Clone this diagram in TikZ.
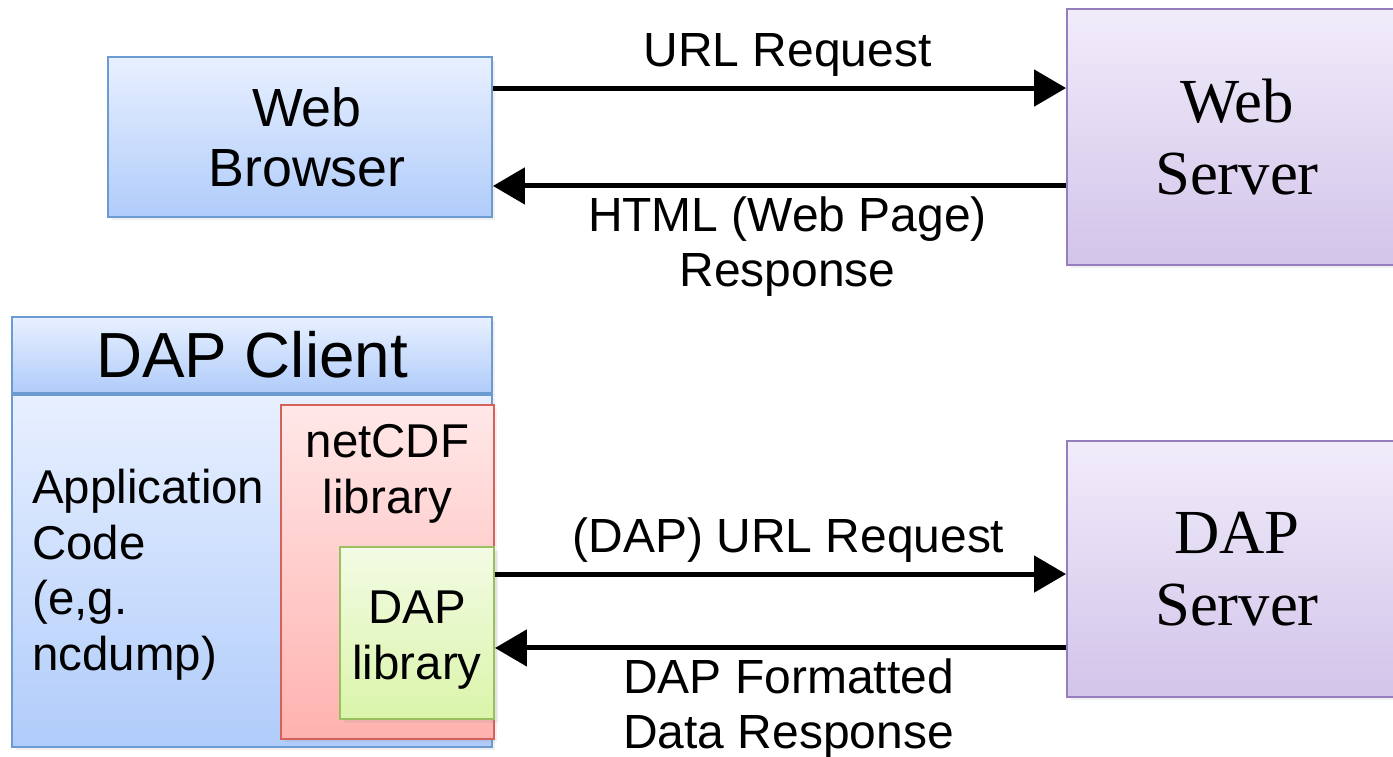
\documentclass[tikz,border=0pt]{standalone}
\usepackage{fontspec}
\setmainfont{Liberation Sans}
\newfontfamily\srvfont{Liberation Serif}
\usepackage{tikz}
\usetikzlibrary{arrows.meta, positioning, shadows}
\definecolor{cltop}{RGB}{232, 240, 255}
\definecolor{clbot}{RGB}{176, 204, 250}
\definecolor{clline}{RGB}{108, 155, 210}
\definecolor{svtop}{RGB}{241, 236, 250}
\definecolor{svbot}{RGB}{210, 196, 234}
\definecolor{svline}{RGB}{150, 125, 190}
\definecolor{cdftop}{RGB}{255, 232, 232}
\definecolor{cdfbot}{RGB}{255, 178, 175}
\definecolor{cdfline}{RGB}{214, 96, 90}
\definecolor{libtop}{RGB}{243, 251, 228}
\definecolor{libbot}{RGB}{218, 245, 170}
\definecolor{libline}{RGB}{155, 190, 95}
\newcommand{\boxfont}{\fontsize{27}{31.6}\selectfont}

\begin{document}
\begin{tikzpicture}[x=0.02cm, y=-0.02cm,
    box/.style={line width=1.1pt, inner sep=0pt,
                drop shadow={opacity=0.12, shadow xshift=2pt, shadow yshift=-2pt}},
    clientbox/.style={box, draw=clline, top color=cltop, bottom color=clbot},
    srvbox/.style={box, draw=svline, top color=svtop, bottom color=svbot,
                   minimum width=6.8cm, minimum height=5.12cm, align=center,
                   font=\srvfont\fontsize{35.7}{40.8}\selectfont},
    flow/.style={-{Triangle[length=0.64cm, width=0.72cm]}, line width=0.1cm},
    msg/.style={inner sep=0pt, align=center, xshift=0.16cm,
                font=\fontsize{27.3}{31}\selectfont}]
  \useasboundingbox (0,0) rectangle (1393,757);
  \clip (0,0) rectangle (1393,757);

  % browser / web server
  \node[clientbox, minimum width=7.68cm, minimum height=3.2cm] (browser) at (300,137) {};
  \node[align=center, inner sep=0pt, font=\fontsize{30.6}{34}\selectfont]
    (browsertext) at ([xshift=0.14cm]browser.center) {Web\\Browser};
  \node[srvbox] (websrv) at (1237,137) {Web\\Server};

  % DAP client stack
  \node[clientbox, minimum width=9.6cm, minimum height=1.52cm,
        font=\fontsize{36.3}{40}\selectfont] (cltitle) at (252,355) {DAP Client};
  \node[clientbox, minimum width=9.6cm, minimum height=7.04cm,
        below=0pt of cltitle] (clbody) {};
  \node[anchor=north west, inner sep=0pt, align=left, font=\boxfont]
    (appcode) at (32,469) {Application\\Code\\(e,g.\\ncdump)};
  \node[box, draw=cdfline, top color=cdftop, bottom color=cdfbot,
        minimum width=4.26cm, minimum height=6.68cm] (netcdf) at (387.5,572) {};
  \node[below=0.4cm of netcdf.north, inner sep=0pt, align=center, font=\boxfont]
    (cdftext) {netCDF\\library};
  \node[box, draw=libline, top color=libtop, bottom color=libbot,
        minimum width=3.08cm, minimum height=3.44cm] (daplib) at (417,633) {};
  \node[align=center, inner sep=0pt, font=\boxfont]
    (daplibtext) at ([yshift=-0.14cm]daplib.center) {DAP\\library};

  \node[srvbox] (dapsrv) at (1237,569) {DAP\\Server};

  % request / response arrows
  \coordinate (urlreq) at ([yshift=-0.64cm]browser.north east);
  \coordinate (htmlres) at ([yshift=0.64cm]browser.south east);
  \coordinate (dapreq) at ([yshift=-0.56cm]daplib.north east);
  \coordinate (dapres) at ([yshift=1.44cm]daplib.south east);

  \draw[flow] (urlreq) -- (urlreq -| websrv.west)
    node[msg, midway, anchor=base, yshift=0.43cm] {URL Request};
  \draw[flow] (htmlres -| websrv.west) -- (htmlres)
    node[msg, midway, below=0.17cm] {HTML (Web Page)\\Response};
  \draw[flow] (dapreq) -- (dapreq -| dapsrv.west)
    node[msg, midway, anchor=base, yshift=0.43cm] {(DAP) URL Request};
  \draw[flow] (dapres -| dapsrv.west) -- (dapres)
    node[msg, midway, below=0.17cm] {DAP Formatted\\Data Response};
\end{tikzpicture}
\end{document}
